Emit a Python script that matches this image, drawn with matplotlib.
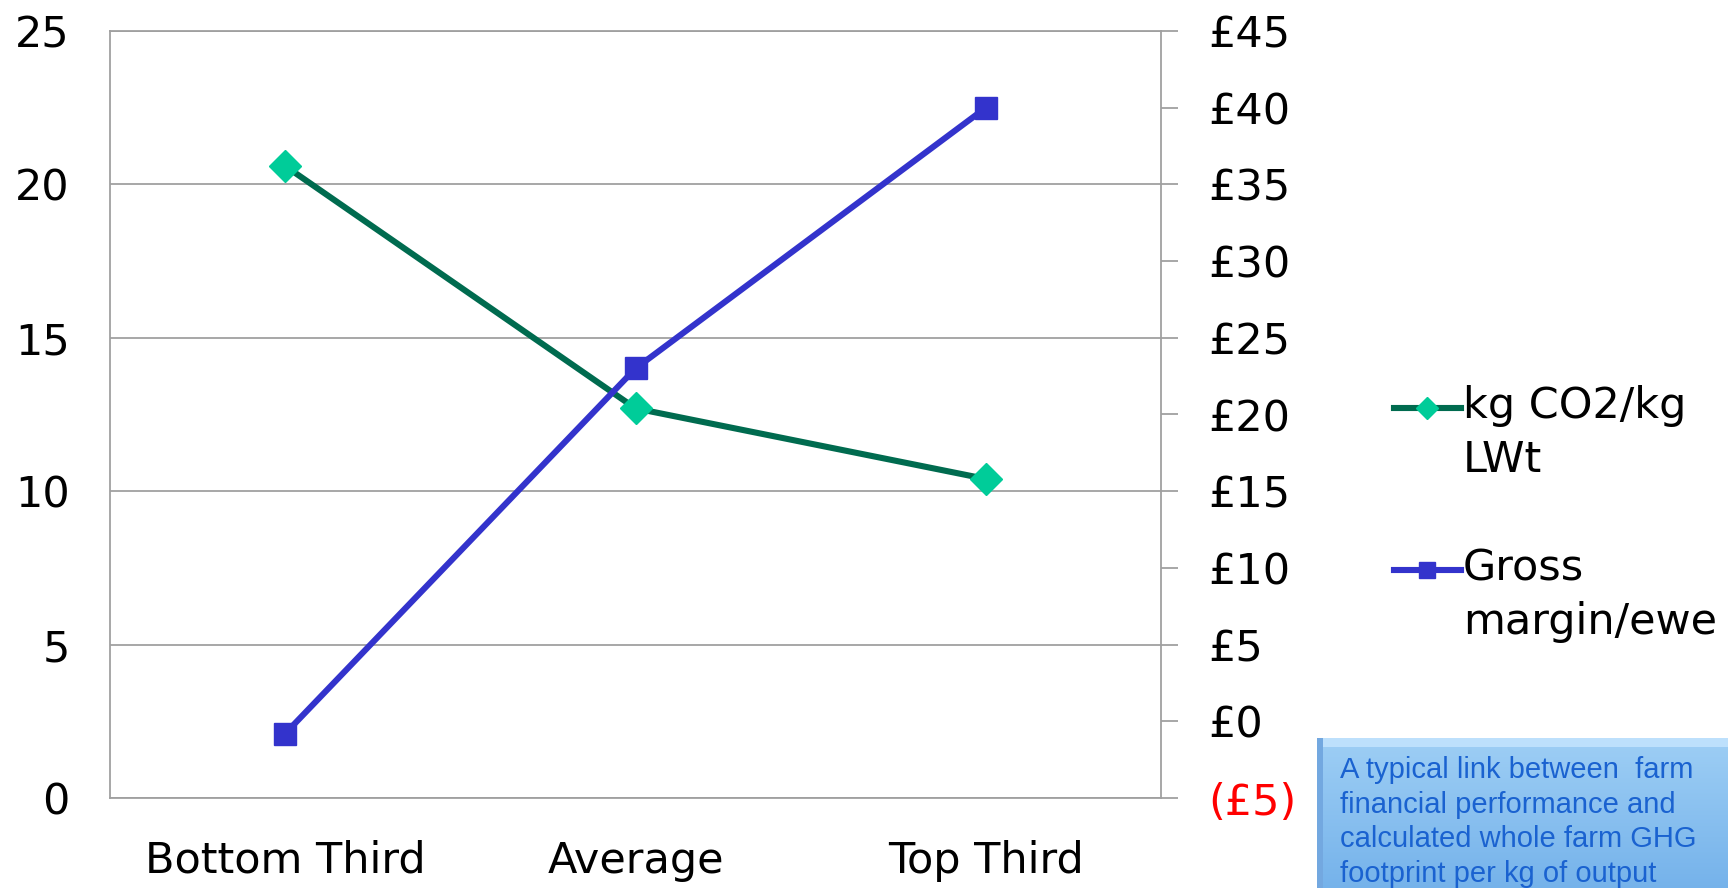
import numpy as np
import matplotlib.pyplot as plt
from matplotlib.lines import Line2D
from matplotlib.patches import Rectangle
from matplotlib.legend_handler import HandlerLine2D

categories = ["Bottom Third", "Average", "Top Third"]
co2_per_kg = [20.6, 12.7, 10.4]
gross_margin = [-0.8, 23.0, 40.0]
left_ticks = [0, 5, 10, 15, 20, 25]
right_ticks = [-5, 0, 5, 10, 15, 20, 25, 30, 35, 40, 45]
right_labels = ["(£5)", "£0", "£5", "£10", "£15", "£20", "£25", "£30", "£35", "£40", "£45"]
series_names = ["kg CO2/kg\nLWt", "Gross\nmargin/ewe"]
note = ("A typical link between  farm\nfinancial performance and\n"
        "calculated whole farm GHG\nfootprint per kg of output")


class TopLineHandler(HandlerLine2D):
    """Puts the legend key level with the first line of a two-line label."""

    def __init__(self, lift, **kw):
        super().__init__(**kw)
        self.lift = lift

    def create_artists(self, legend, orig_handle, xdescent, ydescent,
                       width, height, fontsize, trans):
        return super().create_artists(legend, orig_handle, xdescent,
                                      ydescent - 2 * self.lift, width, height,
                                      fontsize, trans)


plt.rcParams['font.family'] = ['DejaVu Sans']
W, H = 1728, 888
FS = 31
fig = plt.figure(figsize=(W / 100, H / 100), dpi=100)
ax = fig.add_axes([110 / W, 1 - 798 / H, (1161 - 110) / W, (798 - 31) / H])
ax2 = ax.twinx()

grid_c = "#a0a0a0"
x = np.arange(len(categories))
ax.set_xlim(-0.5, len(categories) - 0.5)
ax.set_ylim(0, 25)
ax.set_yticks(left_ticks)
ax.yaxis.grid(True, color=grid_c, lw=1.3)
ax.set_axisbelow(True)
ax.set_xticks(x)
ax.set_xticklabels(categories, fontsize=FS)
ax.tick_params(axis='x', length=0, pad=30)
ax.tick_params(axis='y', length=0, pad=29, labelsize=FS)
for s in ax.spines.values():
    s.set_color(grid_c)
    s.set_linewidth(1.3)

ax2.set_ylim(-5, 45)
ax2.set_yticks(right_ticks)
ax2.set_yticklabels(right_labels, fontsize=FS)
ax2.tick_params(axis='y', length=12, width=1.3, color=grid_c, pad=22)
ax2.get_yticklabels()[0].set_color("#ff0000")
for s in ax2.spines.values():
    s.set_visible(False)

green_line, green_mark = "#006b4f", "#00cc99"
blue = "#3333cc"
LW = 4.4
ax.plot(x, co2_per_kg, color=green_line, lw=LW, marker='D', ms=16,
        mfc=green_mark, mec=green_mark, zorder=3)
ax2.plot(x, gross_margin, color=blue, lw=LW, marker='s', ms=16,
         mfc=blue, mec=blue, zorder=3)

handles = [
    Line2D([], [], color=green_line, lw=LW, marker='D', ms=11, mfc=green_mark, mec=green_mark),
    Line2D([], [], color=blue, lw=LW, marker='s', ms=12, mfc=blue, mec=blue),
]
leg = fig.legend(handles, series_names, loc='center left',
                 bbox_to_anchor=(1394 / W, 1 - 514 / H),
                 frameon=False, fontsize=FS, handlelength=1.55, handletextpad=0.05,
                 labelspacing=1.55, borderpad=0, borderaxespad=0,
                 handler_map={Line2D: TopLineHandler(lift=19)})
for t in leg.get_texts():
    t.set_linespacing(1.35)

# annotation box with a soft vertical gradient and a bevelled rim
bx = fig.add_axes([1317 / W, 0, (W - 1317) / W, (888 - 738) / H])
grad = np.linspace(0, 1, 100)[:, None]
top = np.array([0.62, 0.81, 0.96])
bot = np.array([0.46, 0.70, 0.92])
img = top[None, None, :] * (1 - grad[..., None]) + bot[None, None, :] * grad[..., None]
bx.imshow(np.repeat(img, 10, axis=1), aspect='auto', extent=(0, 1, 0, 1))
bx.add_patch(Rectangle((0, 0.94), 1, 0.06, color=(0.74, 0.88, 0.99), lw=0))
bx.add_patch(Rectangle((0, 0), 0.015, 1, color=(0.45, 0.66, 0.88), lw=0))
bx.set_xlim(0, 1)
bx.set_ylim(0, 1)
bx.axis('off')
bx.text(0.055, 0.88, note, transform=bx.transAxes, fontsize=21, color="#1a62d0",
        family='Liberation Sans', va='top', ha='left', linespacing=1.3)

fig.savefig("out.png", dpi=100)
